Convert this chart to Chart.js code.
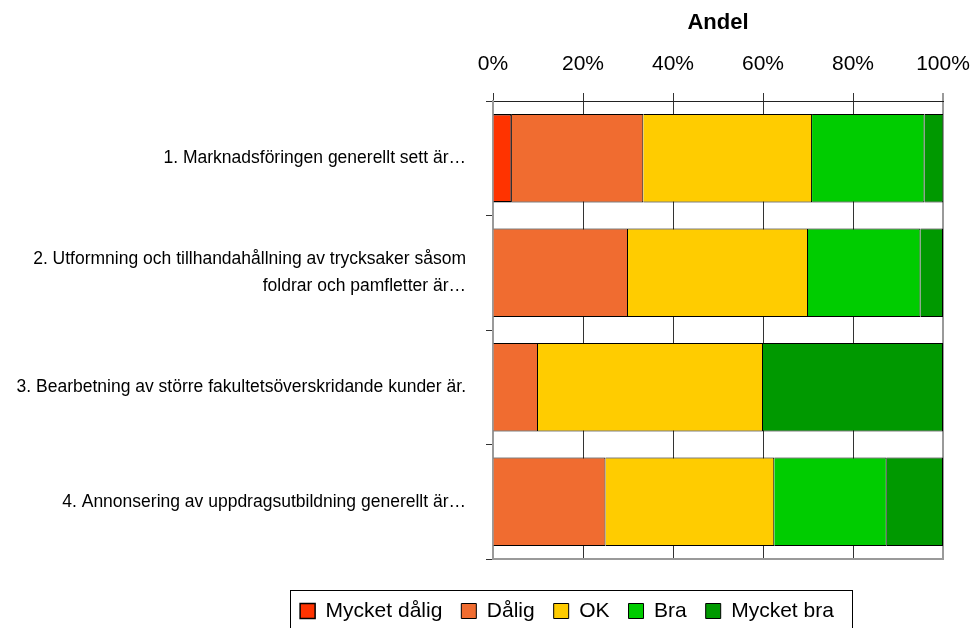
<!DOCTYPE html>
<html>
<head>
<meta charset="utf-8">
<script src="https://cdn.jsdelivr.net/npm/chart.js@4"></script>
<style>
  html, body { margin: 0; padding: 0; background: #fff; }
  #wrap { width: 975px; height: 628px; }
</style>
</head>
<body>
<div id="wrap"><canvas id="andelChart" width="975" height="628"></canvas></div>
<script>
// frågor (kategorier)
const fragor = [
  "1. Marknadsföringen generellt sett är…",
  ["2. Utformning och tillhandahållning av trycksaker såsom", "foldrar och pamfletter är…"],
  "3. Bearbetning av större fakultetsöverskridande kunder är.",
  "4. Annonsering av uppdragsutbildning generellt är…",
];

// andel svar i procent per fråga
const mycketDalig = [4.2, 0, 0, 0];
const dalig = [29.2, 30, 10, 25];
const ok = [37.5, 40, 50, 37.5];
const bra = [25, 25, 0, 25];
const mycketBra = [4.2, 5, 40, 12.5];

const xTicks = [0, 20, 40, 60, 80, 100];

// flytta legenden så att den hamnar som i originalet
const legendFlytt = {
  id: "legendFlytt",
  afterUpdate(chart) {
    const lg = chart.legend;
    lg.fit();
    const h = lg.height;
    lg.left = 191;
    lg.right = 943;
    lg.width = lg.right - lg.left;
    lg.top = 581.5;
    lg.bottom = lg.top + h;
    lg.adjustHitBoxes();
  },
};

// ram runt legend + nedre kant på ritytan
const ramPlugin = {
  id: "ram",
  afterDraw(chart) {
    const c = chart.ctx;
    const a = chart.chartArea;
    c.save();
    c.strokeStyle = "#9a9a9a";
    c.lineWidth = 2;
    c.beginPath();
    c.moveTo(a.left, a.bottom);
    c.lineTo(a.right + 1, a.bottom);
    c.stroke();

    const boxes = chart.legend.legendHitBoxes;
    if (boxes && boxes.length) {
      const first = boxes[0];
      const last = boxes[boxes.length - 1];
      const x1 = first.left - 10;
      const x2 = last.left + last.width + 18;
      const y1 = first.top - 10.5;
      c.strokeStyle = "#000";
      c.lineWidth = 1;
      c.strokeRect(Math.round(x1) + 0.5, Math.round(y1) + 0.5, Math.round(x2 - x1), 40);
    }
    c.restore();
  },
};

const ctx = document.getElementById("andelChart").getContext("2d");
const andelChart = new Chart(ctx, {
  type: "bar",
  data: {
    labels: fragor,
    datasets: [
      { label: "Mycket dålig", data: mycketDalig, backgroundColor: "#ff3300", borderColor: "#000", borderWidth: 1.5 },
      { label: "Dålig", data: dalig, backgroundColor: "#f06c30", borderColor: "#000", borderWidth: 1 },
      { label: "OK", data: ok, backgroundColor: "#ffcc00", borderColor: "#000", borderWidth: 1 },
      { label: "Bra", data: bra, backgroundColor: "#00cc00", borderColor: "#000", borderWidth: 1 },
      { label: "Mycket bra", data: mycketBra, backgroundColor: "#009900", borderColor: "#000", borderWidth: 1 },
    ],
  },
  options: {
    indexAxis: "y",
    responsive: false,
    animation: false,
    categoryPercentage: 0.773,
    barPercentage: 1,
    layout: {
      padding: { left: 0, right: 32, top: 0, bottom: 19 },
    },
    scales: {
      x: {
        position: "top",
        stacked: true,
        min: 0,
        max: 100,
        afterBuildTicks: (scale) => {
          scale.ticks = xTicks.map((v) => ({ value: v }));
        },
        afterFit: (scale) => {
          scale.height = 101;
          scale.paddingLeft = 0;
          scale.paddingRight = 0;
        },
        ticks: {
          callback: (v) => v + "%",
          color: "#000",
          padding: 16,
          maxRotation: 0,
          font: { family: "'Liberation Sans', Arial", size: 21 },
        },
        grid: {
          color: (c) => (c.index === xTicks.length - 1 ? "#9a9a9a" : "#333"),
          lineWidth: (c) => (c.index === xTicks.length - 1 ? 2 : 1),
          tickLength: 8,
        },
        border: { display: true, color: "#222", width: 1 },
        title: {
          display: true,
          text: "Andel",
          color: "#000",
          padding: { top: 10, bottom: 0 },
          font: { family: "'Liberation Sans', Arial", size: 22, weight: "bold" },
        },
      },
      y: {
        stacked: true,
        afterFit: (scale) => {
          scale.width = 493;
        },
        ticks: {
          color: "#000",
          padding: 20,
          font: { family: "'Liberation Sans', Arial", size: 17.5, lineHeight: 1.55 },
        },
        grid: {
          drawOnChartArea: false,
          color: "#333",
          tickLength: 7,
        },
        border: { display: true, color: "#9a9a9a", width: 2 },
      },
    },
    plugins: {
      legend: {
        position: "bottom",
        labels: {
          color: "#000",
          boxWidth: 15,
          boxHeight: 15,
          padding: 19,
          font: { family: "'Liberation Sans', Arial", size: 21 },
        },
      },
      tooltip: { enabled: false },
    },
  },
  plugins: [legendFlytt, ramPlugin],
});
</script>
</body>
</html>
